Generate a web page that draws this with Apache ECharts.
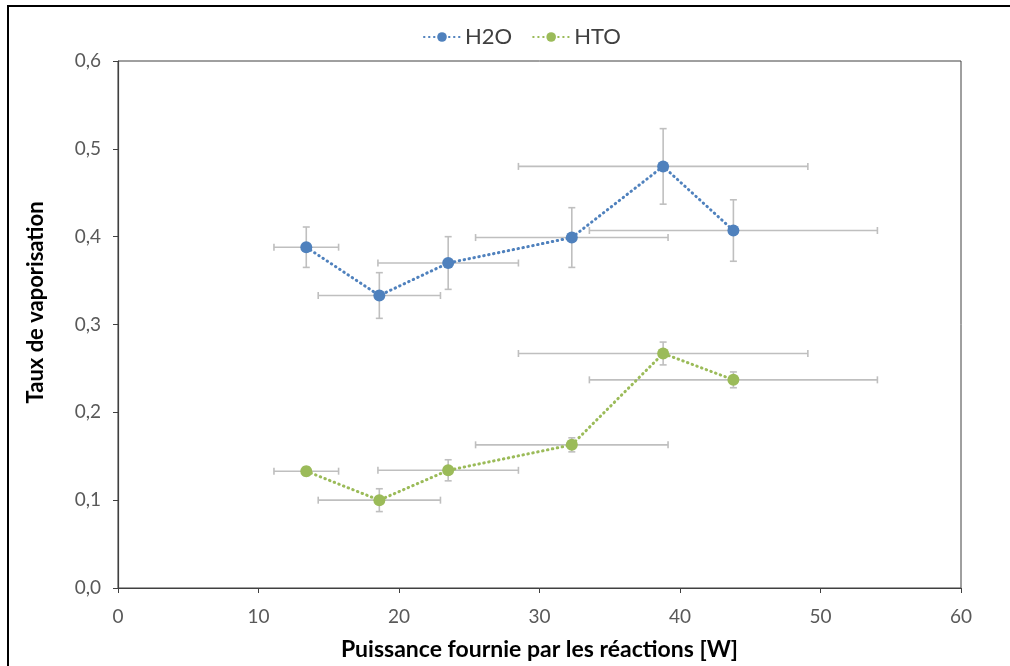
<!DOCTYPE html>
<html>
<head>
<meta charset="utf-8">
<script src="https://cdn.jsdelivr.net/npm/echarts@6/dist/echarts.min.js"></script>
<style>
  html, body { margin: 0; padding: 0; background: #fff; }
  #chart { width: 1010px; height: 666px; }
</style>
</head>
<body>
<div id="chart"></div>
<script>
// Power supplied by the reactions [W] and its uncertainty (shared by both series)
const power = [13.4, 18.6, 23.5, 32.3, 38.8, 43.8];
const powerErr = [2.3, 4.35, 5.0, 6.85, 10.3, 10.25];

// Vaporisation rate and its uncertainty
const h2oRate = [0.388, 0.333, 0.370, 0.399, 0.480, 0.407];
const h2oErr = [0.023, 0.026, 0.030, 0.034, 0.043, 0.035];
const htoRate = [0.133, 0.100, 0.134, 0.163, 0.267, 0.237];
const htoErr = [0.005, 0.013, 0.012, 0.008, 0.013, 0.009];

const xTicks = [0, 10, 20, 30, 40, 50, 60];
const yTicks = [0, 0.1, 0.2, 0.3, 0.4, 0.5, 0.6];

const FONT = 'Lato, "Open Sans", sans-serif';
const BLUE = '#4F81BD';
const GREEN = '#9BBB59';
const ERR = '#BFBFBF';

function pairs(ys) { return power.map((x, i) => [x, ys[i]]); }
function errRows(ys, yes) { return power.map((x, i) => [x, ys[i], powerErr[i], yes[i]]); }

// Cross-shaped error bars with end caps
function renderErr(params, api) {
  const x = api.value(0), y = api.value(1), xe = api.value(2), ye = api.value(3);
  const l = api.coord([x - xe, y]), r = api.coord([x + xe, y]);
  const t = api.coord([x, y + ye]), b = api.coord([x, y - ye]);
  const c = 3.5;
  const st = { stroke: ERR, lineWidth: 1.6 };
  const seg = (x1, y1, x2, y2) => ({ type: 'line', shape: { x1, y1, x2, y2 }, style: st });
  return {
    type: 'group',
    children: [
      seg(l[0], l[1], r[0], r[1]),
      seg(l[0], l[1] - c, l[0], l[1] + c),
      seg(r[0], r[1] - c, r[0], r[1] + c),
      seg(t[0], t[1], b[0], b[1]),
      seg(t[0] - c, t[1], t[0] + c, t[1]),
      seg(b[0] - c, b[1], b[0] + c, b[1])
    ]
  };
}

const dotted = color => ({ color, width: 3, type: [0.5, 4.5], cap: 'round' });

const chart = echarts.init(document.getElementById('chart'));
chart.setOption({
  animation: false,
  backgroundColor: '#fff',
  textStyle: { fontFamily: FONT },
  graphic: [{
    type: 'rect', silent: true, z: 100,
    shape: { x: 8, y: 6, width: 1200, height: 1000 },
    style: { fill: 'none', stroke: '#000', lineWidth: 2 }
  }],
  legend: {
    top: 21, left: 418,
    itemWidth: 36, itemHeight: 12, itemGap: 20,
    textStyle: { fontFamily: FONT, fontSize: 22, color: '#404040' },
    data: ['H2O', 'HTO']
  },
  grid: {
    left: 118, right: 49, top: 61, bottom: 78,
    show: true, borderColor: '#404040', borderWidth: 1, backgroundColor: 'transparent'
  },
  xAxis: {
    type: 'value', min: xTicks[0], max: xTicks[xTicks.length - 1], interval: 10,
    name: 'Puissance fournie par les réactions [W]',
    nameLocation: 'middle', nameGap: 50,
    nameTextStyle: { fontFamily: FONT, fontSize: 23, fontWeight: 'bold', color: '#000' },
    axisLine: { lineStyle: { color: '#404040', width: 1.2 } },
    axisTick: { show: true, length: 5, lineStyle: { color: '#404040' } },
    axisLabel: { fontFamily: FONT, fontSize: 19, color: '#595959', margin: 19 },
    splitLine: { show: false }
  },
  yAxis: {
    type: 'value', min: yTicks[0], max: yTicks[yTicks.length - 1], interval: 0.1,
    name: 'Taux de vaporisation',
    nameLocation: 'middle', nameGap: 71,
    nameTextStyle: {
      fontFamily: FONT, fontSize: 22, fontWeight: 'bold', color: '#000',
      padding: [0, 0, 0, 44]
    },
    axisLine: { show: true, lineStyle: { color: '#404040', width: 1.2 } },
    axisTick: { show: true, length: 5, lineStyle: { color: '#404040' } },
    axisLabel: {
      fontFamily: FONT, fontSize: 19, color: '#595959', margin: 17,
      formatter: v => v.toFixed(1).replace('.', ',')
    },
    splitLine: { show: false }
  },
  series: [
    { type: 'custom', renderItem: renderErr, data: errRows(h2oRate, h2oErr), z: 1, silent: true },
    { type: 'custom', renderItem: renderErr, data: errRows(htoRate, htoErr), z: 1, silent: true },
    {
      name: 'H2O', type: 'line', data: pairs(h2oRate), z: 3,
      symbol: 'circle', symbolSize: 12,
      itemStyle: { color: BLUE },
      lineStyle: dotted(BLUE)
    },
    {
      name: 'HTO', type: 'line', data: pairs(htoRate), z: 3,
      symbol: 'circle', symbolSize: 12,
      itemStyle: { color: GREEN },
      lineStyle: dotted(GREEN)
    }
  ]
});
</script>
</body>
</html>
